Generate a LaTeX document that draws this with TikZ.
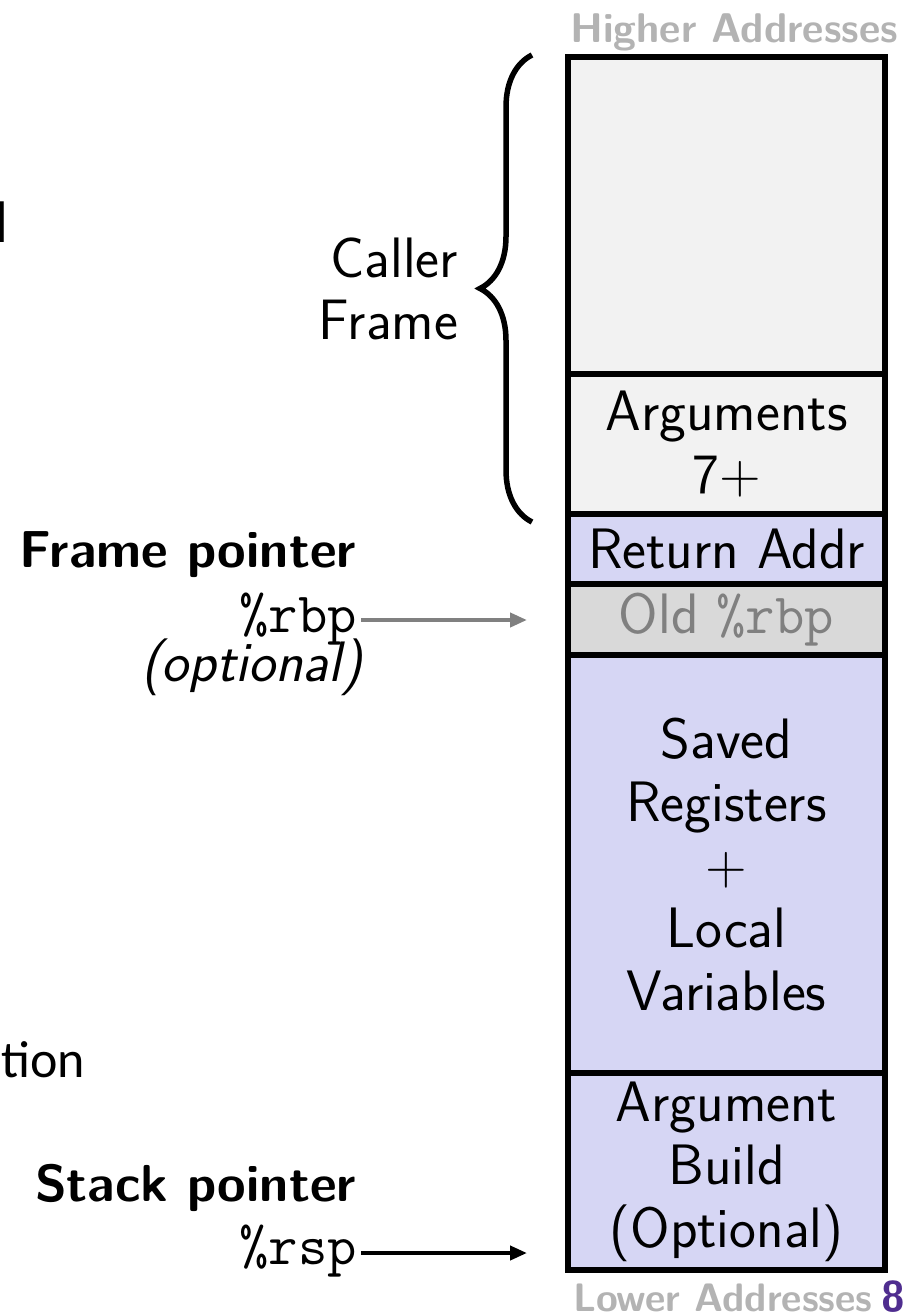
\documentclass[tikz,border=0pt]{standalone}
\usepackage{fontspec}
\newfontfamily\calib{Carlito}
\usetikzlibrary{arrows.meta,decorations.pathreplacing}
\definecolor{lav}{HTML}{D6D6F4}
\definecolor{pale}{HTML}{F2F2F2}
\definecolor{oldfill}{HTML}{D9D9D9}
\definecolor{oldtext}{HTML}{808080}
\definecolor{addr}{HTML}{B3B3B3}
\definecolor{pagenum}{HTML}{4F2D8F}
\begin{document}
\begin{tikzpicture}[x=1pt,y=-1pt,
  cell/.style={draw=black, line width=5.5pt, inner sep=0pt, outer sep=0pt,
    minimum width=317pt, align=center,
    font=\sffamily\fontsize{57}{63}\selectfont},
  lbl/.style={inner sep=0pt, outer sep=0pt, font=\sffamily\fontsize{57}{62}\selectfont},
  boldlbl/.style={lbl, font=\sffamily\bfseries\fontsize{52}{62}\selectfont},
  monolbl/.style={inner sep=0pt, outer sep=0pt, font=\ttfamily\fontsize{57}{62}\selectfont},
  addrlbl/.style={inner sep=0pt, outer sep=0pt, text=addr, font=\sffamily\bfseries\fontsize{41.5}{48}\selectfont},
  ptr/.style={line width=4pt, -{Triangle[length=17pt,width=14pt]}},
  bracestyle/.style={line width=5.5pt, decorate, decoration={brace, amplitude=52pt}}
]
\useasboundingbox (0,0) rectangle (922,1313);

% stack cells
\node[cell, fill=pale, minimum height=317pt] (top) at (726.5,215.5) {};
\node[cell, fill=pale, minimum height=140pt] (args) at (726.5,444) {Arguments\\7+};
\node[cell, fill=lav, minimum height=70pt] (ret) at (726.5,549) {Return Addr};
\node[cell, fill=oldfill, minimum height=71pt, text=oldtext] (old) at (726.5,619.5) {Old {\ttfamily\%rbp}};
\node[cell, fill=lav, minimum height=418pt] (saved) at (726.5,864) {Saved\\Registers\\+\\Local\\Variables};
\node[cell, fill=lav, minimum height=197pt] (argb) at (726.5,1171.5) {Argument\\Build\\(Optional)};

% address labels
\node[addrlbl, anchor=base] (hi) at (734,43) {Higher Addresses};
\node[addrlbl, anchor=base west, font=\sffamily\bfseries\fontsize{39.7}{48}\selectfont] (lo) at (573,1311) {Lower Addresses};
\node[inner sep=0pt, anchor=base west, text=pagenum, font=\sffamily\bfseries\fontsize{43}{48}\selectfont] (pg) at (881,1311) {8};

% caller frame brace
\coordinate (bb) at (532,522);
\coordinate (bt) at (532,55);
\draw[bracestyle] (bb) -- (bt);
\node[lbl, anchor=east, align=right] (caller) at (458,289) {Caller\\Frame};

% frame pointer
\node[boldlbl, anchor=base east] (fp) at (356,567) {Frame pointer};
\node[monolbl, anchor=base east] (rbp) at (357,632) {\%rbp};
\node[lbl, anchor=base east, font=\sffamily\itshape\fontsize{57}{62}\selectfont] (opt) at (362,681) {(optional)};
\coordinate (rbpT) at (527,620);
\draw[ptr, draw=oldtext, fill=oldtext] (rbp.east |- rbpT) ++(4,0) -- (rbpT);

% stack pointer
\node[boldlbl, anchor=base east] (sp) at (356,1201) {Stack pointer};
\node[monolbl, anchor=base east] (rsp) at (357,1264) {\%rsp};
\coordinate (rspT) at (527,1253);
\draw[ptr] (rsp.east |- rspT) ++(4,0) -- (rspT);

% cropped text from the slide edge
\node[inner sep=0pt, anchor=base east, font=\calib\fontsize{52}{62}\selectfont] (tion) at (85,1077) {tion};
\node[inner sep=0pt, anchor=base east, font=\calib\bfseries\fontsize{58}{62}\selectfont] (ell) at (8,243) {l};
\end{tikzpicture}
\end{document}
